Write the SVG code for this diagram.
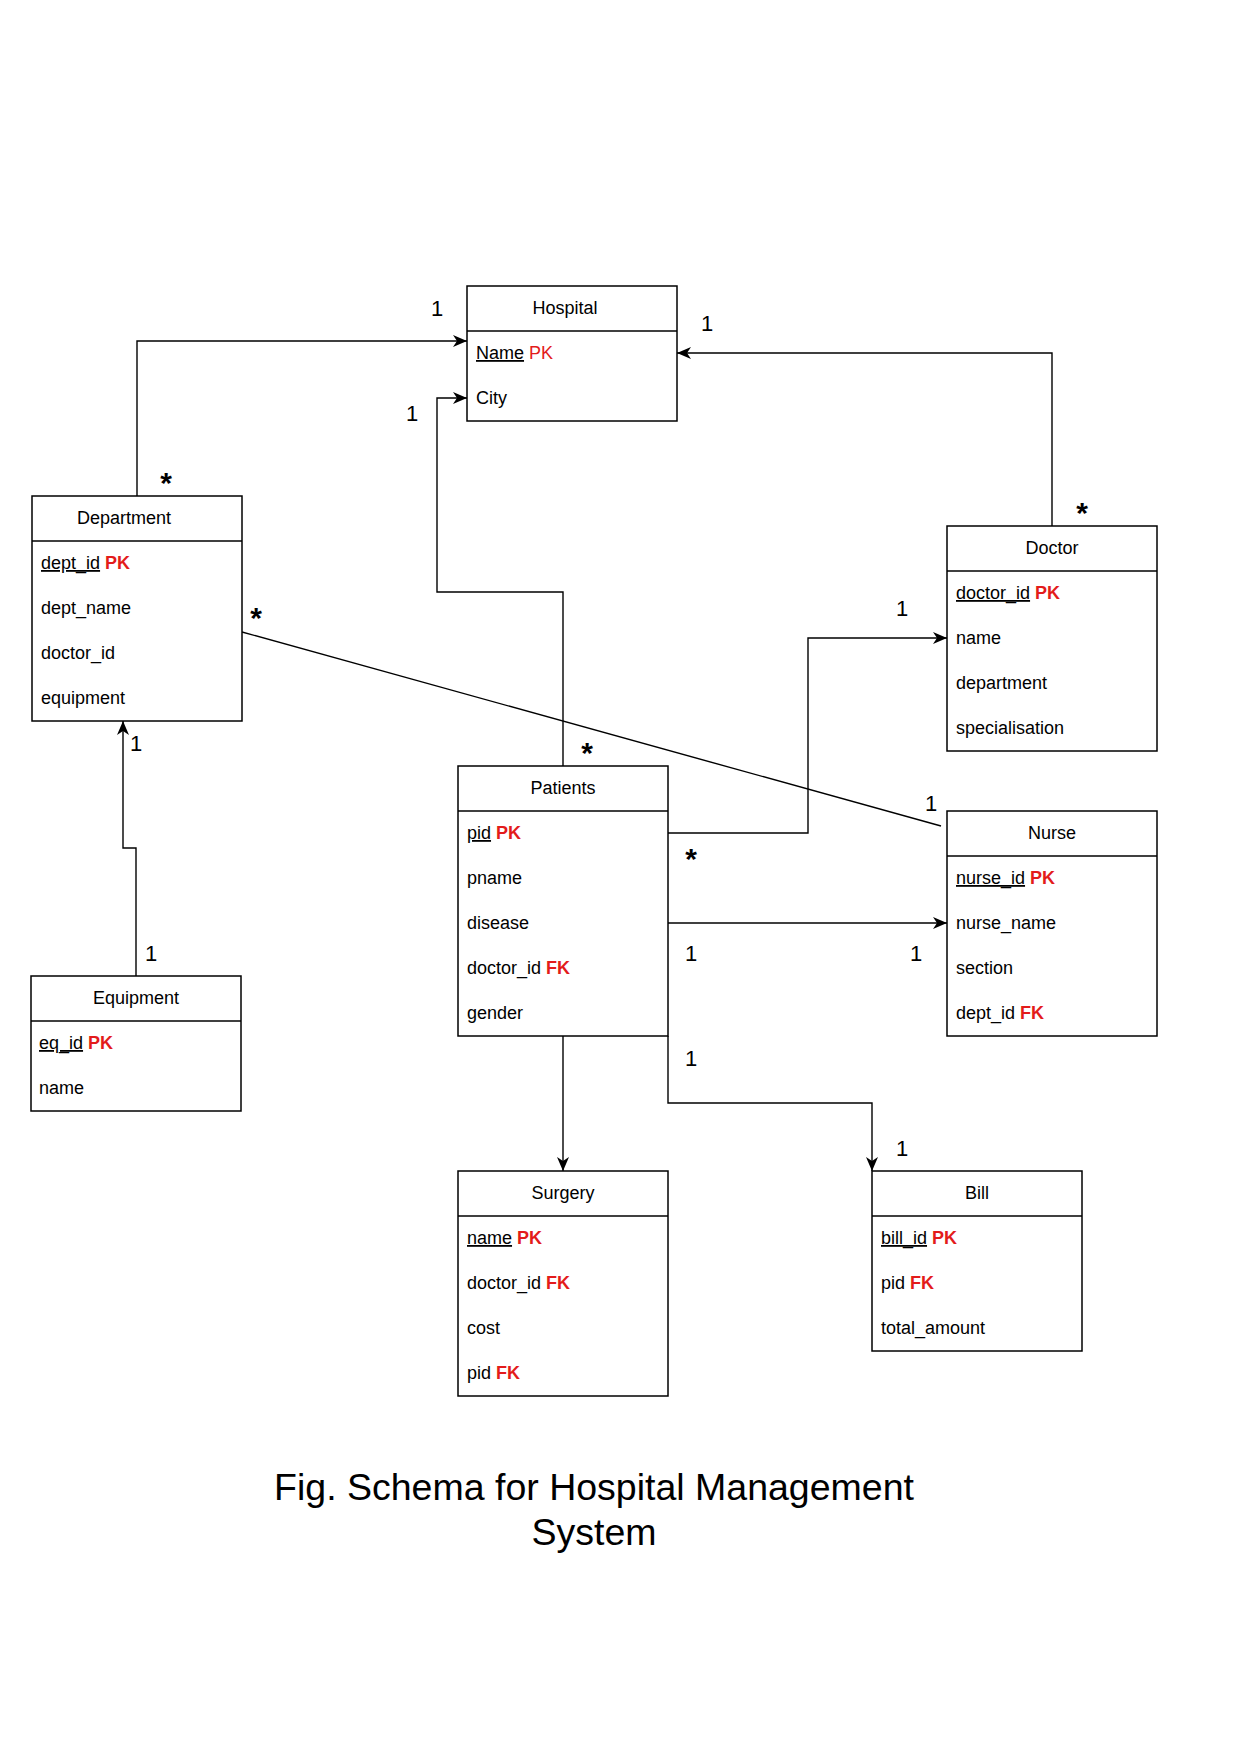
<svg xmlns="http://www.w3.org/2000/svg" width="1242" height="1759" viewBox="0 0 1242 1759">
<style>
.box{fill:#fff;stroke:#000;stroke-width:1.5}
.sep{stroke:#000;stroke-width:1.5}
.t{font-family:"Liberation Sans",Arial,sans-serif;font-size:18px;fill:#000}
.h{text-anchor:middle}
.u{text-decoration:underline}
.pk{fill:#e31b1b;font-weight:bold}
.pkr{fill:#e31b1b}
.lbl{font-family:"Liberation Sans",Arial,sans-serif;font-size:22px;fill:#000;text-anchor:middle}
.star{font-family:"Liberation Sans",Arial,sans-serif;font-size:30px;font-weight:bold;fill:#000;text-anchor:middle}
.c{fill:none;stroke:#000;stroke-width:1.4}
.title{font-family:"Liberation Sans",Arial,sans-serif;font-size:37.5px;fill:#000;text-anchor:middle}
</style>
<defs>
<marker id="arr" markerUnits="userSpaceOnUse" markerWidth="15" markerHeight="13" refX="14" refY="6" orient="auto" viewBox="0 0 15 12">
<path d="M0,0 L14,6 L0,12 L4,6 Z" fill="#000"/>
</marker>
</defs>

<g id="connectors">
<path class="c" d="M137,496 V341 H467" marker-end="url(#arr)"/>
<path class="c" d="M563,766 V592 H437 V398 H467" marker-end="url(#arr)"/>
<path class="c" d="M1052,526 V353 H677" marker-end="url(#arr)"/>
<path class="c" d="M242,632 L941,826"/>
<path class="c" d="M668,833 H808 V638 H947" marker-end="url(#arr)"/>
<path class="c" d="M668,923 H947" marker-end="url(#arr)"/>
<path class="c" d="M563,1036 V1171" marker-end="url(#arr)"/>
<path class="c" d="M668,1036 V1103 H872 V1171" marker-end="url(#arr)"/>
<path class="c" d="M136,976 V848 H123 V721" marker-end="url(#arr)"/>
</g>

<g id="labels">
<text class="lbl" x="437" y="316">1</text>
<text class="lbl" x="707" y="331">1</text>
<text class="lbl" x="412" y="421">1</text>
<text class="lbl" x="902" y="616">1</text>
<text class="lbl" x="931" y="811">1</text>
<text class="lbl" x="691" y="961">1</text>
<text class="lbl" x="916" y="961">1</text>
<text class="lbl" x="691" y="1066">1</text>
<text class="lbl" x="902" y="1156">1</text>
<text class="lbl" x="136" y="751">1</text>
<text class="lbl" x="151" y="961">1</text>
<text class="star" x="166" y="493">*</text>
<text class="star" x="1082" y="523">*</text>
<text class="star" x="587" y="763">*</text>
<text class="star" x="256" y="628">*</text>
<text class="star" x="691" y="869">*</text>
</g>

<g id="hospital">
<rect class="box" x="467" y="286" width="210" height="135"/>
<line class="sep" x1="467" y1="331" x2="677" y2="331"/>
<text class="t h" x="565" y="314">Hospital</text>
<text class="t" x="476" y="359"><tspan class="u">Name</tspan> <tspan class="pkr">PK</tspan></text>
<text class="t" x="476" y="404">City</text>
</g>

<g id="department">
<rect class="box" x="32" y="496" width="210" height="225"/>
<line class="sep" x1="32" y1="541" x2="242" y2="541"/>
<text class="t h" x="124" y="524">Department</text>
<text class="t" x="41" y="569"><tspan class="u">dept_id</tspan> <tspan class="pk">PK</tspan></text>
<text class="t" x="41" y="614">dept_name</text>
<text class="t" x="41" y="659">doctor_id</text>
<text class="t" x="41" y="704">equipment</text>
</g>

<g id="doctor">
<rect class="box" x="947" y="526" width="210" height="225"/>
<line class="sep" x1="947" y1="571" x2="1157" y2="571"/>
<text class="t h" x="1052" y="554">Doctor</text>
<text class="t" x="956" y="599"><tspan class="u">doctor_id</tspan> <tspan class="pk">PK</tspan></text>
<text class="t" x="956" y="644">name</text>
<text class="t" x="956" y="689">department</text>
<text class="t" x="956" y="734">specialisation</text>
</g>

<g id="patients">
<rect class="box" x="458" y="766" width="210" height="270"/>
<line class="sep" x1="458" y1="811" x2="668" y2="811"/>
<text class="t h" x="563" y="794">Patients</text>
<text class="t" x="467" y="839"><tspan class="u">pid</tspan> <tspan class="pk">PK</tspan></text>
<text class="t" x="467" y="884">pname</text>
<text class="t" x="467" y="929">disease</text>
<text class="t" x="467" y="974">doctor_id <tspan class="pk">FK</tspan></text>
<text class="t" x="467" y="1019">gender</text>
</g>

<g id="nurse">
<rect class="box" x="947" y="811" width="210" height="225"/>
<line class="sep" x1="947" y1="856" x2="1157" y2="856"/>
<text class="t h" x="1052" y="839">Nurse</text>
<text class="t" x="956" y="884"><tspan class="u">nurse_id</tspan> <tspan class="pk">PK</tspan></text>
<text class="t" x="956" y="929">nurse_name</text>
<text class="t" x="956" y="974">section</text>
<text class="t" x="956" y="1019">dept_id <tspan class="pk">FK</tspan></text>
</g>

<g id="equipment">
<rect class="box" x="31" y="976" width="210" height="135"/>
<line class="sep" x1="31" y1="1021" x2="241" y2="1021"/>
<text class="t h" x="136" y="1004">Equipment</text>
<text class="t" x="39" y="1049"><tspan class="u">eq_id</tspan> <tspan class="pk">PK</tspan></text>
<text class="t" x="39" y="1094">name</text>
</g>

<g id="surgery">
<rect class="box" x="458" y="1171" width="210" height="225"/>
<line class="sep" x1="458" y1="1216" x2="668" y2="1216"/>
<text class="t h" x="563" y="1199">Surgery</text>
<text class="t" x="467" y="1244"><tspan class="u">name</tspan> <tspan class="pk">PK</tspan></text>
<text class="t" x="467" y="1289">doctor_id <tspan class="pk">FK</tspan></text>
<text class="t" x="467" y="1334">cost</text>
<text class="t" x="467" y="1379">pid <tspan class="pk">FK</tspan></text>
</g>

<g id="bill">
<rect class="box" x="872" y="1171" width="210" height="180"/>
<line class="sep" x1="872" y1="1216" x2="1082" y2="1216"/>
<text class="t h" x="977" y="1199">Bill</text>
<text class="t" x="881" y="1244"><tspan class="u">bill_id</tspan> <tspan class="pk">PK</tspan></text>
<text class="t" x="881" y="1289">pid <tspan class="pk">FK</tspan></text>
<text class="t" x="881" y="1334">total_amount</text>
</g>

<g id="title">
<text class="title" x="594" y="1500">Fig. Schema for Hospital Management</text>
<text class="title" x="594" y="1545">System</text>
</g>
</svg>
